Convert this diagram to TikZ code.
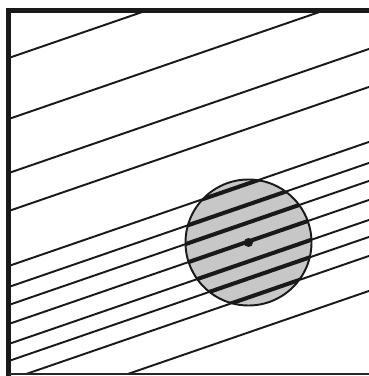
\documentclass[tikz,border=0pt]{standalone}
\begin{document}
\begin{tikzpicture}[x=.2mm,y=.2mm]
\useasboundingbox (0,0) rectangle (369,376);
\coordinate (c) at (248.5,133.5);
\begin{scope}
\clip (11,3) rectangle (369,363);
\foreach \p in {61,122,176,214,269,290,308,327,347,364,383,418}{
 \draw[black!90,line width=1.1pt] (0,{376-\p}) -- ++(19:420);
}
\fill[black!22] (c) circle (63);
\clip (c) circle (63);
\foreach \p in {269,290,308,327,347,364,383}{
 \draw[black!90,line width=2.3pt] (0,{376-\p}) -- ++(19:420);
}
\end{scope}
\draw[black!90,line width=1.1pt] (c) circle (63);
\fill[black!90] (c) circle (4.5);
\draw[black!90,line width=2.85pt] (369,365) -- (8.5,365) -- (8.5,0);
\draw[black!85,line width=1.1pt] (8.5,2) -- (369,2);
\end{tikzpicture}
\end{document}
